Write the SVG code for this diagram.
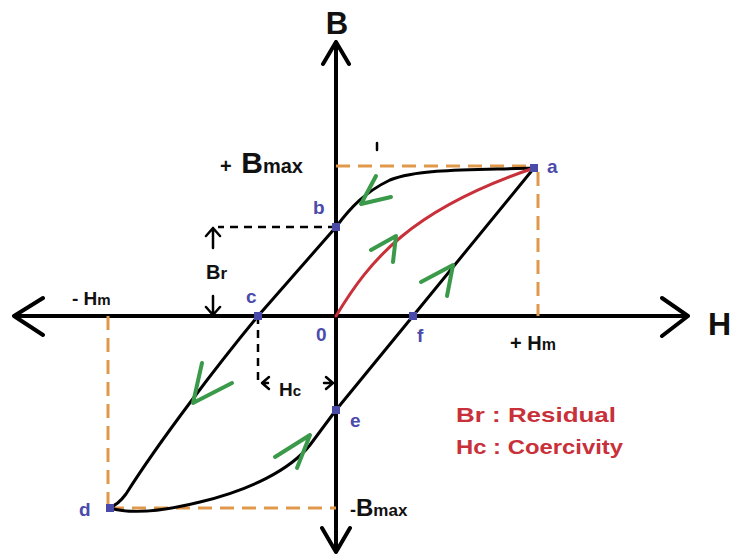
<svg xmlns="http://www.w3.org/2000/svg" width="732" height="560" viewBox="0 0 732 560">
<style>
.ax{stroke:#000;stroke-width:4;fill:none;stroke-linecap:round;stroke-linejoin:round}
.cv{stroke:#000;stroke-width:3;fill:none;stroke-linecap:round}
.red{stroke:#c8303a;stroke-width:3;fill:none;stroke-linecap:round}
.or{stroke:#e0994a;stroke-width:3;fill:none;stroke-dasharray:14 8}
.bd{stroke:#000;stroke-width:2.5;fill:none;stroke-dasharray:8 6}
.gr{stroke:#3a9a4a;stroke-width:4;fill:none;stroke-linecap:round;stroke-linejoin:round}
.sm{stroke:#000;stroke-width:2.5;fill:none;stroke-linecap:round;stroke-linejoin:round}
.pt{fill:#4a4aa8}
.lb{font-family:'Liberation Sans',Arial,sans-serif;font-weight:bold;fill:#4b4bab;font-size:19px}
.tx{font-family:'Liberation Sans',Arial,sans-serif;font-weight:bold;fill:#111}
.lg{font-family:'Liberation Sans',Arial,sans-serif;font-weight:bold;fill:#c8303a;font-size:21px}
</style>
<rect width="732" height="560" fill="#fff"/>
<g id="axes">
<path class="ax" d="M336 42 V552 M323 64 L336 42 L349 64 M322 528 L336 552 L350 528"/>
<path class="ax" d="M14 316 H688 M43 298 L14 316 L43 335 M662 298 L688 316 L662 336"/>
</g>
<g id="guides">
<path class="or" d="M336 166 H534 M538 172 V316 M108 316 V508 M110 508 H336"/>
<path class="bd" d="M336 227 H218 M258 316 V380"/>
<path class="sm" d="M213 248 V228 M206 236 L213 228 L220 236 M213 296 V315 M206 307 L213 315 L220 307"/>
<path class="sm" d="M262 383 H268 M269 377 L262 383 L269 389 M324 383 H333 M326 377 L333 383 L326 389"/>
<path class="sm" d="M377 143 V150" stroke-width="1.5"/>
</g>
<g id="connectors">
<path class="cv" d="M534 168 C480 170 420 168 390 180 C365 192 350 208 336 227 L258 316 C220 362 160 440 126 494 C120 502 115 506 110 507"/>
<path class="cv" d="M110 508 C130 514 160 512 200 502 C250 490 290 470 310 445 L336 410 L413 316 L534 168"/>
<path class="red" d="M336 316 C370 260 410 210 534 168"/>
<path class="gr" d="M376 176 L361 204 L391 197"/>
<path class="gr" d="M371 250 L396 236 L393 262"/>
<path class="gr" d="M421 282 L453 265 L447 296"/>
<path class="gr" d="M202 363 L193 403 L232 383"/>
<path class="gr" d="M275 457 L310 435 L297 468"/>
</g>
<g id="points">
<rect class="pt" x="530" y="164" width="8" height="8"/>
<rect class="pt" x="332" y="223" width="8" height="8"/>
<rect class="pt" x="254" y="312" width="8" height="8"/>
<rect class="pt" x="409" y="312" width="8" height="8"/>
<rect class="pt" x="332" y="406" width="8" height="8"/>
<rect class="pt" x="106" y="504" width="8" height="8"/>
</g>
<g id="labels">
<text class="tx" x="337" y="34" font-size="31" text-anchor="middle">B</text>
<text class="tx" x="708" y="335" font-size="32" font-weight="normal">H</text>
<text class="tx" x="220" y="173" font-size="20">+ <tspan font-size="30" dx="4">B</tspan><tspan font-size="20">max</tspan></text>
<text class="tx" x="350" y="516" font-size="18">-<tspan font-size="24">B</tspan><tspan font-size="17">max</tspan></text>
<text class="tx" x="72" y="305" font-size="19">- H<tspan font-size="15">m</tspan></text>
<text class="tx" x="510" y="350" font-size="20">+ H<tspan font-size="16">m</tspan></text>
<text class="tx" x="206" y="279" font-size="20">B<tspan font-size="17">r</tspan></text>
<text class="tx" x="279" y="396" font-size="19">H<tspan font-size="15">c</tspan></text>
<text class="lb" x="547" y="173">a</text>
<text class="lb" x="313" y="214">b</text>
<text class="lb" x="246" y="303">c</text>
<text class="lb" x="316" y="341">0</text>
<text class="lb" x="417" y="342">f</text>
<text class="lb" x="350" y="427">e</text>
<text class="lb" x="79" y="516">d</text>
<text class="lg" x="456" y="422" textLength="160" lengthAdjust="spacingAndGlyphs">Br : Residual</text>
<text class="lg" x="456" y="454" textLength="167" lengthAdjust="spacingAndGlyphs">Hc : Coercivity</text>
</g>
</svg>
